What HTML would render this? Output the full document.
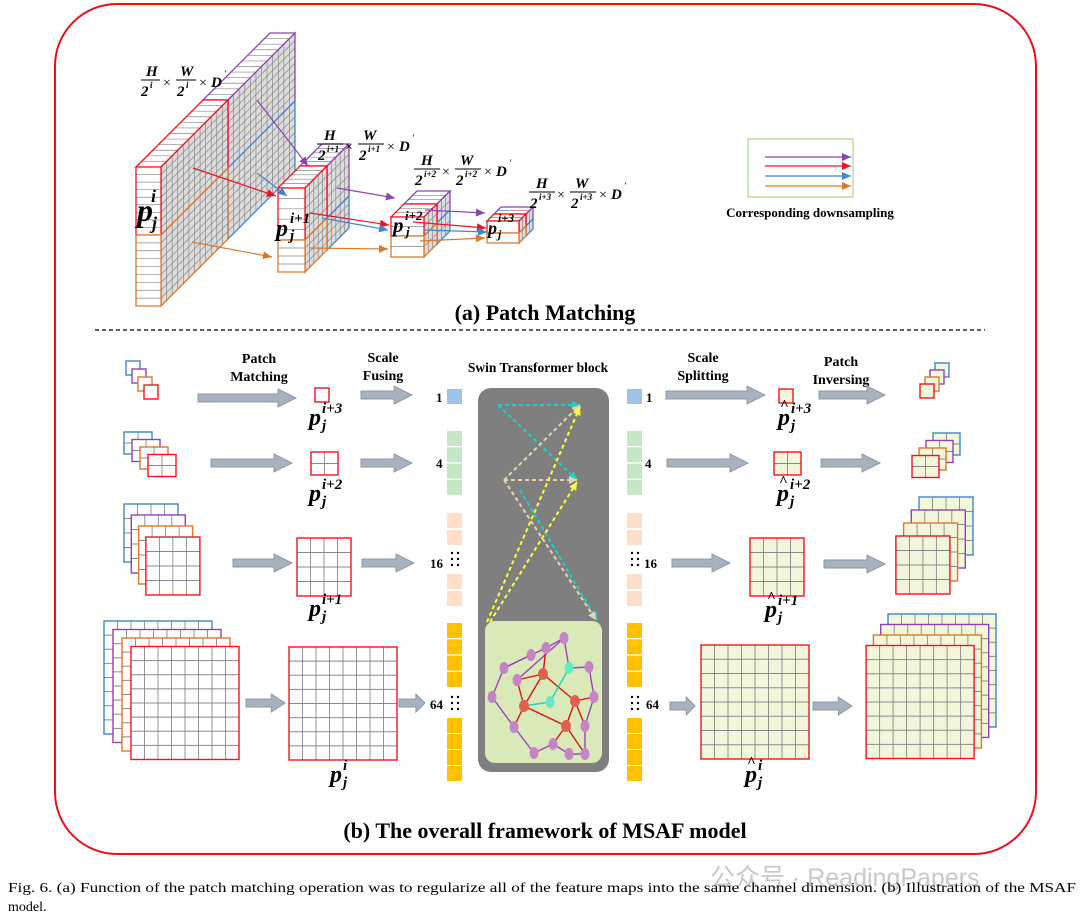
<!DOCTYPE html>
<html><head><meta charset="utf-8"><style>
html,body{margin:0;padding:0;background:#fff;}
svg{display:block;}
.t{font-family:"Liberation Serif",serif;font-weight:bold;fill:#000;}
.fb{font-family:"Liberation Serif",serif;font-weight:bold;font-style:italic;font-size:15px;}
.fs{font-family:"Liberation Serif",serif;font-weight:bold;font-style:italic;font-size:9px;}
.fx{font-family:"Liberation Serif",serif;font-size:14px;}
.p{font-family:"Liberation Serif",serif;font-weight:bold;font-style:italic;font-size:24px;}
.ps{font-family:"Liberation Serif",serif;font-weight:bold;font-style:italic;font-size:15px;}
.n{font-family:"Liberation Serif",serif;font-weight:bold;font-size:13px;}
</style></head><body>
<svg id="s" width="1080" height="920" viewBox="0 0 1080 920" xmlns="http://www.w3.org/2000/svg">
<rect x="55" y="4" width="981" height="850" rx="62" fill="#fff" stroke="#e8101a" stroke-width="2"/>
<line x1="95" y1="330" x2="985" y2="330" stroke="#000" stroke-width="1.3" stroke-dasharray="4,3"/>
<g id="blocks"></g>
<g id="arrA" fill="none" stroke-width="1.2"></g>

<g>
<text class="fb" x="146" y="76">H</text><line x1="141" y1="80" x2="160" y2="80" stroke="#000"/>
<text class="fb" x="141" y="96">2</text><text class="fs" x="150" y="88">i</text>
<text class="fx" x="163" y="87">×</text>
<text class="fb" x="180" y="76">W</text><line x1="176" y1="80" x2="196" y2="80" stroke="#000"/>
<text class="fb" x="177" y="96">2</text><text class="fs" x="186" y="88">i</text>
<text class="fx" x="199" y="87">×</text><text class="fb" x="211" y="87">D</text><text class="fs" x="224" y="77">'</text>
</g>
<g transform="translate(0,0)">
<text class="fb" x="324" y="140">H</text><line x1="317" y1="144" x2="343" y2="144" stroke="#000"/>
<text class="fb" x="318" y="160">2</text><text class="fs" x="327" y="152">i+1</text>
<text class="fx" x="345" y="151">×</text>
<text class="fb" x="363" y="140">W</text><line x1="358" y1="144" x2="384" y2="144" stroke="#000"/>
<text class="fb" x="359" y="160">2</text><text class="fs" x="368" y="152">i+1</text>
<text class="fx" x="387" y="151">×</text><text class="fb" x="399" y="151">D</text><text class="fs" x="412" y="141">'</text>
</g>
<g transform="translate(97,25)">
<text class="fb" x="324" y="140">H</text><line x1="317" y1="144" x2="343" y2="144" stroke="#000"/>
<text class="fb" x="318" y="160">2</text><text class="fs" x="327" y="152">i+2</text>
<text class="fx" x="345" y="151">×</text>
<text class="fb" x="363" y="140">W</text><line x1="358" y1="144" x2="384" y2="144" stroke="#000"/>
<text class="fb" x="359" y="160">2</text><text class="fs" x="368" y="152">i+2</text>
<text class="fx" x="387" y="151">×</text><text class="fb" x="399" y="151">D</text><text class="fs" x="412" y="141">'</text>
</g>
<g transform="translate(212,48)">
<text class="fb" x="324" y="140">H</text><line x1="317" y1="144" x2="343" y2="144" stroke="#000"/>
<text class="fb" x="318" y="160">2</text><text class="fs" x="327" y="152">i+3</text>
<text class="fx" x="345" y="151">×</text>
<text class="fb" x="363" y="140">W</text><line x1="358" y1="144" x2="384" y2="144" stroke="#000"/>
<text class="fb" x="359" y="160">2</text><text class="fs" x="368" y="152">i+3</text>
<text class="fx" x="387" y="151">×</text><text class="fb" x="399" y="151">D</text><text class="fs" x="412" y="141">'</text>
</g>

<text class="p" x="137" y="221" style="font-size:32px">p</text><text class="ps" x="151" y="202" style="font-size:18px">i</text><text class="ps" x="152" y="229" style="font-size:18px">j</text>
<text class="p" x="276" y="236">p</text><text class="ps" x="290" y="223">i+1</text><text class="ps" x="290" y="240">j</text>
<text class="p" x="393" y="232" style="font-size:21px">p</text><text class="ps" x="405" y="220" style="font-size:13px">i+2</text><text class="ps" x="406" y="236" style="font-size:13px">j</text>
<text class="p" x="488" y="234" style="font-size:18px">p</text><text class="ps" x="498" y="222" style="font-size:12px">i+3</text><text class="ps" x="498" y="238" style="font-size:12px">j</text>

<rect x="748" y="139" width="105" height="58" fill="#fff" stroke="#a9d18e" stroke-width="1.2"/>
<g id="leg"></g>
<text class="t" x="810" y="217" font-size="13" text-anchor="middle">Corresponding downsampling</text>
<text class="t" x="545" y="320" font-size="22" text-anchor="middle">(a) Patch Matching</text>
<text class="t" x="545" y="838" font-size="22" text-anchor="middle">(b) The overall framework of MSAF model</text>

<text class="t" font-size="14" text-anchor="middle"><tspan x="259" y="363">Patch</tspan><tspan x="259" y="381">Matching</tspan></text>
<text class="t" font-size="14" text-anchor="middle"><tspan x="383" y="362">Scale</tspan><tspan x="383" y="380">Fusing</tspan></text>
<text class="t" font-size="13.5" text-anchor="middle" x="538" y="372">Swin Transformer block</text>
<text class="t" font-size="14" text-anchor="middle"><tspan x="703" y="362">Scale</tspan><tspan x="703" y="380">Splitting</tspan></text>
<text class="t" font-size="14" text-anchor="middle"><tspan x="841" y="366">Patch</tspan><tspan x="841" y="384">Inversing</tspan></text>

<g id="grids"></g>
<g id="garr"></g>

<rect x="478" y="388" width="131" height="384" rx="13" fill="#7f7f7f"/>
<rect x="485" y="621" width="117" height="142" rx="10" fill="#d9eab8"/>
<g id="dash" fill="none" stroke-width="2" stroke-dasharray="4,3"></g>
<g id="graph"></g>

<g id="tok"></g>
<text class="n" x="436" y="402">1</text><text class="n" x="436" y="468">4</text><text class="n" x="430" y="568">16</text><text class="n" x="430" y="709">64</text>
<text class="n" x="646" y="402">1</text><text class="n" x="645" y="468">4</text><text class="n" x="644" y="568">16</text><text class="n" x="646" y="709">64</text>

<text class="p" x="309" y="425">p</text><text class="ps" x="322" y="413">i+3</text><text class="ps" x="322" y="430">j</text>
<text class="p" x="309" y="501">p</text><text class="ps" x="322" y="489">i+2</text><text class="ps" x="322" y="506">j</text>
<text class="p" x="309" y="616">p</text><text class="ps" x="322" y="604">i+1</text><text class="ps" x="322" y="621">j</text>
<text class="p" x="330" y="782">p</text><text class="ps" x="343" y="770">i</text><text class="ps" x="343" y="787">j</text>
<text class="p" x="778" y="425">p</text><text class="ps" x="780" y="410">^</text><text class="ps" x="791" y="413">i+3</text><text class="ps" x="791" y="430">j</text>
<text class="p" x="777" y="501">p</text><text class="ps" x="779" y="486">^</text><text class="ps" x="790" y="489">i+2</text><text class="ps" x="790" y="506">j</text>
<text class="p" x="765" y="617">p</text><text class="ps" x="767" y="602">^</text><text class="ps" x="778" y="605">i+1</text><text class="ps" x="778" y="622">j</text>
<text class="p" x="745" y="782">p</text><text class="ps" x="747" y="767">^</text><text class="ps" x="758" y="770">i</text><text class="ps" x="758" y="787">j</text>

<text font-family="Liberation Sans, Noto Sans CJK SC, sans-serif" font-size="25" fill="#c8c8c8" x="710" y="886">公众号 · ReadingPapers</text>
<text font-family="Liberation Serif, serif" font-size="14" x="8" y="892" textLength="1068" lengthAdjust="spacingAndGlyphs">Fig. 6.   (a) Function of the patch matching operation was to regularize all of the feature maps into the same channel dimension. (b) Illustration of the MSAF</text>
<text font-family="Liberation Serif, serif" font-size="14" x="8" y="911">model.</text>
</svg>
<script>
var NS="http://www.w3.org/2000/svg";
function el(p,n,a){var e=document.createElementNS(NS,n);for(var k in a)e.setAttribute(k,a[k]);document.getElementById(p).appendChild(e);return e;}
var R="#f0141e",O="#d9792d",P="#8e44b0",B="#3f87c9",G="#888";
function para(g,x,y,ux,uy,vx,vy,fill,stroke,nU,nV){
 el(g,"polygon",{points:[x,y,x+ux,y+uy,x+ux+vx,y+uy+vy,x+vx,y+vy].join(","),fill:fill,stroke:"none"});
 for(var i=1;i<nU;i++){var f=i/nU;el(g,"line",{x1:x+ux*f,y1:y+uy*f,x2:x+ux*f+vx,y2:y+uy*f+vy,stroke:G,"stroke-width":0.7});}
 for(var j=1;j<nV;j++){var f=j/nV;el(g,"line",{x1:x+vx*f,y1:y+vy*f,x2:x+vx*f+ux,y2:y+vy*f+uy,stroke:G,"stroke-width":0.7});}
 el(g,"polygon",{points:[x,y,x+ux,y+uy,x+ux+vx,y+uy+vy,x+vx,y+vy].join(","),fill:"none",stroke:stroke,"stroke-width":1.3});
}
function prism(x,y,w,h,dx,dy,col,rows,depth,top){
 if(top)para("blocks",x,y,w,0,dx,dy,"#fff",col,1,depth);
 para("blocks",x+w,y,dx,dy,0,h,"#dcdcdc",col,depth,rows);
 para("blocks",x,y,w,0,0,h,"#fff",col,1,rows);
}
function block(x,y,w,h1,h2,dx,dy,r1,r2,d){
 prism(x+dx,y+dy,w,h1,dx,dy,P,r1,d,true);
 prism(x+dx,y+dy+h1,w,h2,dx,dy,B,r2,d,false);
 prism(x,y,w,h1,dx,dy,R,r1,d,true);
 prism(x,y+h1,w,h2,dx,dy,O,r2,d,false);
}
block(136,167,25,68,71,67,-67,9,9,12);
block(278,188,27,52,32,22,-22,5,4,5);
block(391,217,33,19,21,13,-13,2,2,3);
block(487,221,32,12,10,7,-7,1,1,2);
function ar(g,x1,y1,x2,y2,c){
 el(g,"line",{x1:x1,y1:y1,x2:x2,y2:y2,stroke:c,"stroke-width":1.2});
 var a=Math.atan2(y2-y1,x2-x1),L=9,W=4;
 var bx=x2-L*Math.cos(a),by=y2-L*Math.sin(a);
 el(g,"polygon",{points:[x2,y2,bx+W*Math.sin(a),by-W*Math.cos(a),bx-W*Math.sin(a),by+W*Math.cos(a)].join(","),fill:c,stroke:"none"});
}
ar("arrA",257,100,308,166,P);ar("arrA",193,168,276,196,R);ar("arrA",257,173,287,196,B);ar("arrA",192,242,272,257,O);
ar("arrA",337,188,395,198,P);ar("arrA",310,213,389,225,R);ar("arrA",322,218,388,230,B);ar("arrA",310,248,388,249,O);
ar("arrA",425,210,485,213,P);ar("arrA",413,222,486,228,R);ar("arrA",424,230,487,232,B);ar("arrA",420,241,485,238,O);
ar("leg",765,157,851,157,P);ar("leg",765,166,851,166,R);ar("leg",765,176,851,176,B);ar("leg",765,186,851,186,O);
function grid(x,y,w,h,n,col,fill){
 el("grids","rect",{x:x,y:y,width:w,height:h,fill:fill,stroke:"none"});
 for(var i=1;i<n;i++){el("grids","line",{x1:x+w*i/n,y1:y,x2:x+w*i/n,y2:y+h,stroke:G,"stroke-width":0.9});el("grids","line",{x1:x,y1:y+h*i/n,x2:x+w,y2:y+h*i/n,stroke:G,"stroke-width":0.9});}
 el("grids","rect",{x:x,y:y,width:w,height:h,fill:"none",stroke:col,"stroke-width":1.4});
}
function stack(x,y,w,h,n,ox,oy,fill){var c=[B,P,O,R];for(var k=0;k<4;k++)grid(x+ox*k,y+oy*k,w,h,n,c[k],fill);}
var W="#fff",C="#f2f7dc";
stack(126,361,14,14,1,6,8,W);
stack(124,432,28,22,2,8,7.5,W);
stack(124,504,54,58,4,7.3,11,W);
stack(104,621,108,113,8,9,8.5,W);
grid(315,388,14,14,1,R,W);grid(311,452,27,23,2,R,W);grid(297,538,54,58,4,R,W);grid(289,647,108,113,8,R,W);
grid(779,389,14,14,1,R,C);grid(774,452,27,23,2,R,C);grid(750,538,54,58,4,R,C);grid(701,645,108,114,8,R,C);
stack(935,363,14,14,1,-5,7,C);
stack(933,433,27,22,2,-7,7.5,C);
stack(919,497,54,58,4,-7.7,13,C);
stack(888,614,108,113,8,-7.3,10.5,C);
function garr(x1,x2,y){var h=Math.min(18,(x2-x1)*0.35);
 el("garr","polygon",{points:[x1,y-4,x2-h,y-4,x2-h,y-9,x2,y,x2-h,y+9,x2-h,y+4,x1,y+4].join(","),fill:"#a8b2bf",stroke:"#8d98a8","stroke-width":1});}
garr(198,296,398);garr(361,412,395);garr(211,292,463);garr(361,412,463);garr(233,292,563);garr(362,414,563);garr(246,285,703);garr(399,425,703);
garr(666,765,395);garr(819,885,395);garr(667,748,463);garr(821,880,463);garr(672,730,563);garr(824,885,564);garr(670,695,706);garr(813,852,706);
function tok(x,y,c){el("tok","rect",{x:x,y:y,width:15,height:15,fill:c});}
[447,627].forEach(function(x){
 tok(x,389,"#9dc3e6");
 for(var i=0;i<4;i++)tok(x,431+i*16.3,"#c5e7c5");
 tok(x,513,"#fde0c6");tok(x,530,"#fde0c6");tok(x,574,"#fde0c6");tok(x,591,"#fde0c6");
 for(var i=0;i<4;i++){tok(x,623+i*16.3,"#ffc000");tok(x,718+i*16,"#ffc000");}
});
[[450,553],[450,697],[630,553],[630,697]].forEach(function(p){for(var r=0;r<3;r++)for(var c=0;c<2;c++)el("tok","circle",{cx:p[0]+c*6+2,cy:p[1]+r*6,r:1.2,fill:"#000"});});
var cy="#1fd1c8",be="#e8d3b0",ye="#ffff33";
function da(x1,y1,x2,y2,c){el("dash","line",{x1:x1,y1:y1,x2:x2,y2:y2,stroke:c});
 var a=Math.atan2(y2-y1,x2-x1),bx=x2-8*Math.cos(a),by=y2-8*Math.sin(a);
 el("dash","polygon",{points:[x2,y2,bx+4*Math.sin(a),by-4*Math.cos(a),bx-4*Math.sin(a),by+4*Math.cos(a)].join(","),fill:c,stroke:"none","stroke-dasharray":"none"});}
da(498,405,580,405,cy);da(498,405,577,480,cy);da(520,490,597,620,cy);
da(504,480,577,480,be);da(504,480,580,405,be);da(504,480,596,620,be);
da(487,622,580,407,ye);da(490,622,577,482,ye);
var pu={a:[564,638],b:[546,648],c:[531,655],d:[504,668],e:[517,680],f:[589,667],g:[492,697],h:[594,697],i:[585,726],j:[514,727],k:[534,753],l:[553,744],m:[569,754],n:[585,754]};
var rd={A:[543,674],B:[524,706],C:[575,701],D:[566,726]};var cn={X:[569,668],Y:[550,702]};
function N(k){return pu[k]||rd[k]||cn[k];}
function E(a,b,c){var p=N(a),q=N(b);el("graph","line",{x1:p[0],y1:p[1],x2:q[0],y2:q[1],stroke:c,"stroke-width":1.4});}
["ab","bc","cd","cd","ae","dg","gj","jk","kl","lm","mn","ni","ih","hf","fX","aX"].forEach(function(s){E(s[0],s[1],"#a040c0");});
["eA","Ab","AB","eB","Bj","AC","BD","Ch","Ci","DC","Dl","Dn"].forEach(function(s){E(s[0],s[1],"#e01010");});
["BY","YX"].forEach(function(s){E(s[0],s[1],"#20d0c0");});
for(var k in pu)el("graph","ellipse",{cx:pu[k][0],cy:pu[k][1],rx:4.5,ry:6,fill:"#c584c5"});
for(var k in rd)el("graph","ellipse",{cx:rd[k][0],cy:rd[k][1],rx:5,ry:6,fill:"#e06050"});
for(var k in cn)el("graph","ellipse",{cx:cn[k][0],cy:cn[k][1],rx:4.5,ry:6,fill:"#66e8c8"});
</script>
</body></html>
